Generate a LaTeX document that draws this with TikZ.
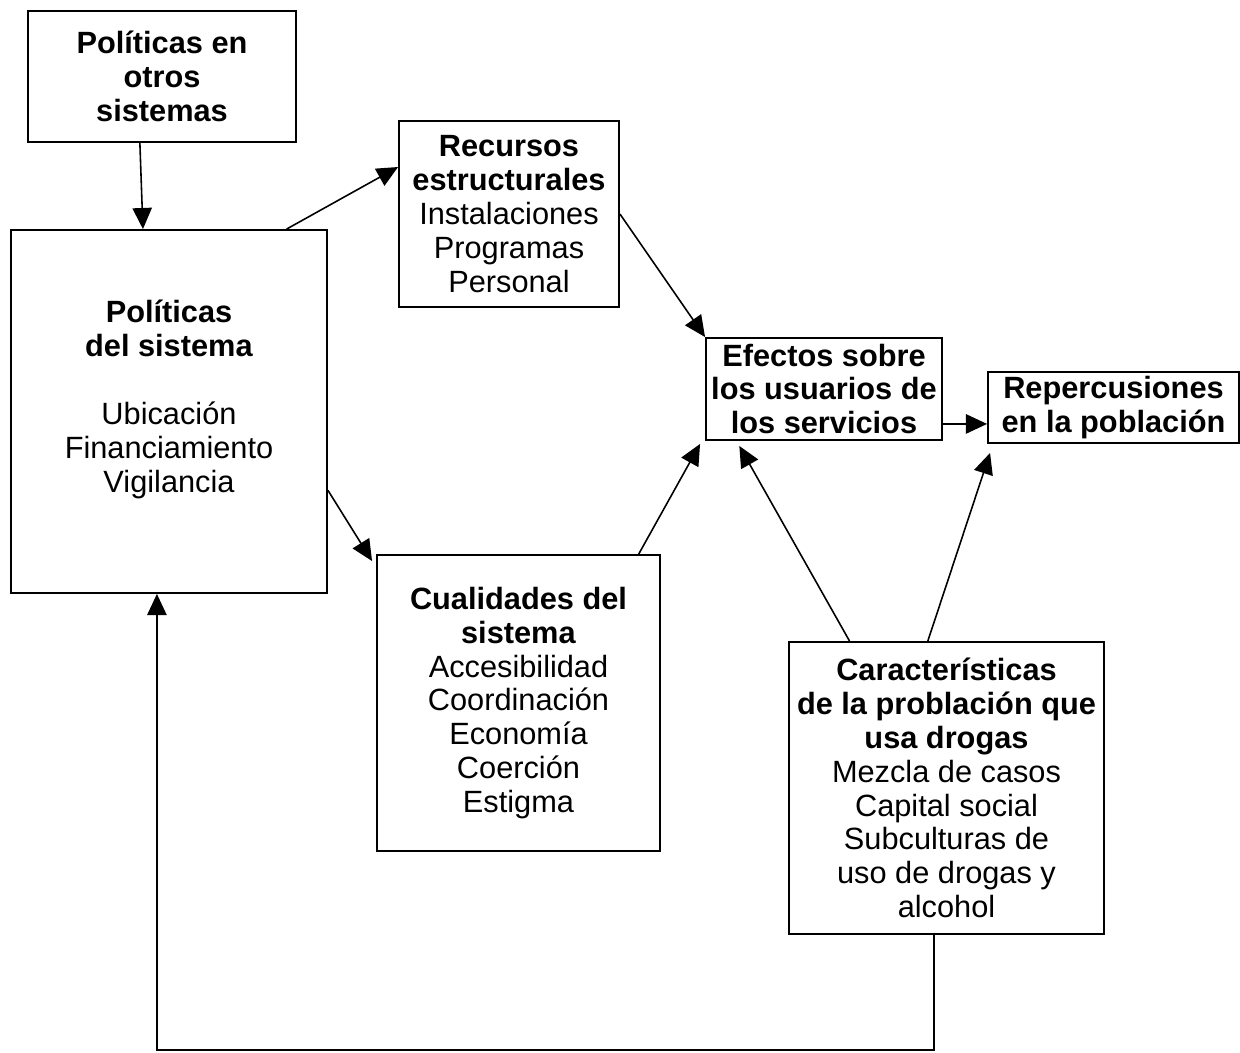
\documentclass[tikz,border=0pt]{standalone}
\usepackage{fontspec}
\setmainfont{Liberation Sans}
\usepackage{tikz}
\usetikzlibrary{arrows.meta, calc, positioning}
\newcommand{\drawe}{\draw[line width=0.9pt]}

\begin{document}
\begin{tikzpicture}[x=0.02cm, y=-0.02cm, >={Triangle[length=12pt,width=11pt]},
  khoi/.style={draw, line width=1.1pt, align=center, inner sep=0pt,
    font=\fontsize{17.5}{19.3}\selectfont}]
%\draw[color=blue] (0,0) grid[step=100] (1240,1053); %Tạo lưới
\useasboundingbox (0,0) rectangle (1240,1053);

% Vẽ các khối
\node[khoi, minimum width=5.36cm, minimum height=2.62cm] (A) at (162,76.5)
  {\textbf{Políticas en}\\\textbf{otros}\\\textbf{sistemas}};
\node[khoi, minimum width=6.32cm, minimum height=7.26cm] (B) at (169,411.5)
  {\textbf{Políticas}\\\textbf{del sistema}\\[19.3pt]Ubicación\\Financiamiento\\Vigilancia\\[-2pt]\mbox{}};
\node[khoi, minimum width=4.4cm, minimum height=3.72cm] (C) at (509,214)
  {\textbf{Recursos}\\\textbf{estructurales}\\Instalaciones\\Programas\\Personal};
\node[khoi, minimum width=4.72cm, minimum height=2.04cm] (D) at (824,389)
  {\textbf{Efectos sobre}\\\textbf{los usuarios de}\\\textbf{los servicios}};
\node[khoi, minimum width=5.02cm, minimum height=1.42cm] (E) at (1113.5,407.5)
  {\textbf{Repercusiones}\\\textbf{en la población}};
\node[khoi, minimum width=5.66cm, minimum height=5.92cm] (F) at (518.5,703)
  {\textbf{Cualidades del}\\\textbf{sistema}\\Accesibilidad\\Coordinación\\Economía\\Coerción\\Estigma};
\node[khoi, minimum width=6.3cm, minimum height=5.84cm] (G) at (946.5,788)
  {\textbf{Características}\\\textbf{de la problación que}\\\textbf{usa drogas}\\Mezcla de casos\\Capital social\\Subculturas de\\uso de drogas y\\alcohol};

% Vẽ các mũi tên
\drawe[->] ($(A.south west)!0.418!(A.south east)$) -- ($(B.north west)!0.418!(B.north east)$);
\drawe[->] ($(B.north west)!0.87!(B.north east)$) -- ($(C.north west)!0.25!(C.south west)$);
\drawe[->] (C.east) -- (D.north west);
\drawe[->] ($(B.north east)!0.716!(B.south east)$) -- ($(F.north west)+(-4,7)$);
\drawe[->] ($(F.north west)!0.922!(F.north east)$) -- ($(D.south west)+(-5,3)$);
\drawe[->] ($(G.north west)!0.194!(G.north east)$) -- ($(D.south west)!0.144!(D.south east)+(0,5)$);
\drawe[->] ($(G.north west)!0.441!(G.north east)$) -- ($(E.south west)+(3,9)$);
\coordinate (de) at ($(D.south east)+(0,-17)$);
\drawe[->] (de) -- (de -| E.west);

% Vẽ vòng phản hồi
\coordinate (g0) at ($(G.south west)!0.46!(G.south east)$);
\coordinate (b0) at ($(B.south west)!0.462!(B.south east)$);
\coordinate (day) at (0,1050);
\drawe[->] (g0) -- (g0 |- day) -| (b0);

\end{tikzpicture}
\end{document}
